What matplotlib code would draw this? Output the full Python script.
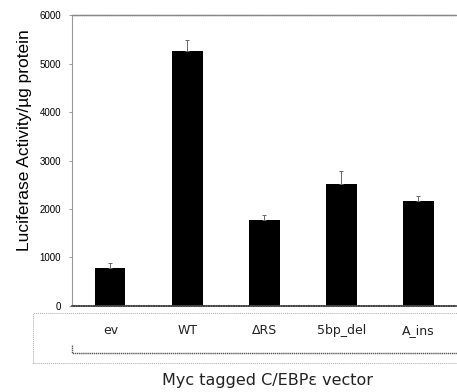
import matplotlib.pyplot as plt
from matplotlib.patches import Rectangle
from matplotlib.lines import Line2D

categories = ["ev", "WT", "\u0394RS", "5bp_del", "A_ins"]
values = [790, 5250, 1770, 2510, 2160]
errors = [90, 230, 100, 270, 100]
yticks = [0, 1000, 2000, 3000, 4000, 5000, 6000]

fig = plt.figure(figsize=(4.57, 3.92), dpi=100)
ax = fig.add_axes([0.1575, 0.2194, 0.8425, 0.7423])

x = range(len(categories))
ax.bar(x, values, width=0.39, color="black", zorder=2)
ax.errorbar(x, values, yerr=[[0] * len(errors), errors], fmt="none",
            ecolor="#666666", elinewidth=0.7, capsize=1.5, capthick=0.7, zorder=3)

ax.set_xlim(-0.5, 4.5)
ax.set_ylim(0, 6000)
ax.set_yticks(yticks)
ax.set_yticklabels([str(t) for t in yticks], fontsize=7, family="Liberation Sans")
ax.tick_params(axis="y", length=2, width=0.6, color="#888888", pad=6)
ax.set_xticks(list(x))
ax.set_xticklabels(categories, fontsize=9, color="#222222")
ax.tick_params(axis="x", length=0, pad=13)

ax.spines["right"].set_visible(False)
ax.spines["left"].set_linestyle((0, (1, 1)))
ax.spines["left"].set_color("#999999")
ax.spines["left"].set_linewidth(0.8)
ax.spines["bottom"].set_linestyle((0, (1, 0.5)))
ax.spines["bottom"].set_color("#444444")
ax.spines["bottom"].set_linewidth(1.2)
ax.spines["top"].set_linestyle((0, (1, 0.5)))
ax.spines["top"].set_color("#888888")
ax.spines["top"].set_linewidth(1.0)

ax.set_ylabel("Luciferase Activity/\u00b5g protein", fontsize=12.5,
              family="Liberation Sans")
ax.yaxis.set_label_coords(-0.105, 0.57)

# dotted box below the axis holding the category labels
fig.patches.append(Rectangle((33 / 457, 1 - 363 / 392), 424 / 457, 50 / 392,
                             transform=fig.transFigure, fill=False,
                             edgecolor="#aaaaaa", linestyle=(0, (1, 1)), linewidth=0.7))
fig.lines.append(Line2D([72 / 457, 72 / 457, 1.0], [1 - 345 / 392, 1 - 353 / 392, 1 - 353 / 392],
                        transform=fig.transFigure, color="#555555",
                        linestyle=(0, (1, 0.5)), linewidth=1.0))

fig.text(267 / 457, 1 - 381 / 392, "Myc tagged C/EBP\u03b5 vector", fontsize=11.5,
         ha="center", va="center", color="#222222")

fig.savefig("out.png", dpi=100)
